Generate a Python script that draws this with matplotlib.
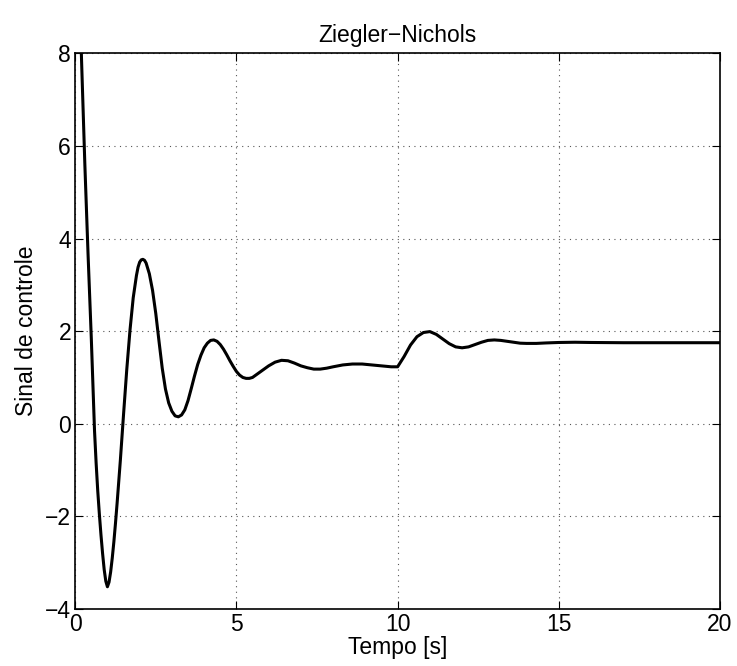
import matplotlib
matplotlib.use("Agg")
import matplotlib.pyplot as plt
import numpy as np

# control signal sampled from the closed-loop run (Ziegler-Nichols tuning)
t = [0.0, 0.1, 0.2, 0.3, 0.4, 0.5, 0.6, 0.65, 0.7, 0.75,
     0.8, 0.85, 0.9, 0.95, 1.0, 1.05, 1.1, 1.15, 1.2, 1.25,
     1.3, 1.4, 1.5, 1.6, 1.7, 1.8, 1.9, 1.95, 2.0, 2.05,
     2.1, 2.15, 2.2, 2.3, 2.4, 2.5, 2.6, 2.7, 2.8, 2.9,
     3.0, 3.1, 3.2, 3.3, 3.4, 3.5, 3.6, 3.7, 3.8, 3.9,
     4.0, 4.1, 4.2, 4.3, 4.4, 4.5, 4.6, 4.7, 4.8, 4.9,
     5.0, 5.1, 5.2, 5.3, 5.4, 5.5, 5.6, 5.8, 6.0, 6.2,
     6.4, 6.6, 6.8, 7.0, 7.2, 7.4, 7.6, 7.8, 8.0, 8.3,
     8.6, 8.9, 9.2, 9.5, 9.8, 10.0, 10.2, 10.4, 10.6, 10.8,
     11.0, 11.2, 11.4, 11.6, 11.8, 12.0, 12.2, 12.4, 12.6, 12.8,
     13.0, 13.2, 13.4, 13.6, 13.8, 14.0, 14.3, 14.6, 15.0, 15.5,
     16.0, 17.0, 18.0, 19.0, 20.0]
u = [12.2, 10.1, 7.8, 5.6, 3.65, 1.85, -0.15, -0.85, -1.45, -1.95,
     -2.4, -2.8, -3.15, -3.4, -3.52, -3.42, -3.2, -2.9, -2.55, -2.15,
     -1.72, -0.8, 0.2, 1.17, 2.02, 2.72, 3.2, 3.38, 3.49, 3.54,
     3.55, 3.53, 3.47, 3.24, 2.88, 2.38, 1.78, 1.2, 0.75, 0.45,
     0.27, 0.17, 0.15, 0.19, 0.3, 0.5, 0.76, 1.03, 1.28, 1.48,
     1.64, 1.74, 1.8, 1.81, 1.78, 1.71, 1.61, 1.49, 1.36, 1.24,
     1.13, 1.05, 1.0, 0.98, 0.98, 1.0, 1.05, 1.15, 1.25, 1.33,
     1.37, 1.36, 1.31, 1.25, 1.21, 1.18, 1.18, 1.2, 1.23, 1.27,
     1.29, 1.29, 1.27, 1.25, 1.23, 1.23, 1.45, 1.7, 1.88, 1.97,
     1.99, 1.93, 1.83, 1.73, 1.66, 1.64, 1.66, 1.71, 1.76, 1.8,
     1.81, 1.8, 1.78, 1.76, 1.74, 1.735, 1.735, 1.745, 1.755, 1.76,
     1.755, 1.75, 1.75, 1.75, 1.75]

xticks = [0, 5, 10, 15, 20]
yticks = [-4, -2, 0, 2, 4, 6, 8]

plt.rcParams["font.family"] = ["Liberation Sans", "DejaVu Sans"]

fig = plt.figure(figsize=(7.37, 6.66), dpi=100)
ax = fig.add_axes([0.102, 0.0856, 0.875, 0.8344])

ax.plot(t, u, color="black", linewidth=2.2)

ax.set_xlim(0, 20)
ax.set_ylim(-4, 8)
ax.set_xticks(xticks)
ax.set_yticks(yticks)
ax.tick_params(direction="in", top=True, right=True, length=6,
               width=0.8, labelsize=16.5, pad=3)
ax.grid(True, linestyle=(0, (1, 4)), color="#555555", linewidth=0.8)
for s in ax.spines.values():
    s.set_linewidth(1.2)

ax.set_title("Ziegler\u2212Nichols", fontsize=16.5, pad=8)
ax.set_xlabel("Tempo [s]", fontsize=16.5, labelpad=0)
ax.set_ylabel("Sinal de controle", fontsize=16.5, labelpad=5)

fig.savefig("out.png", dpi=100)
